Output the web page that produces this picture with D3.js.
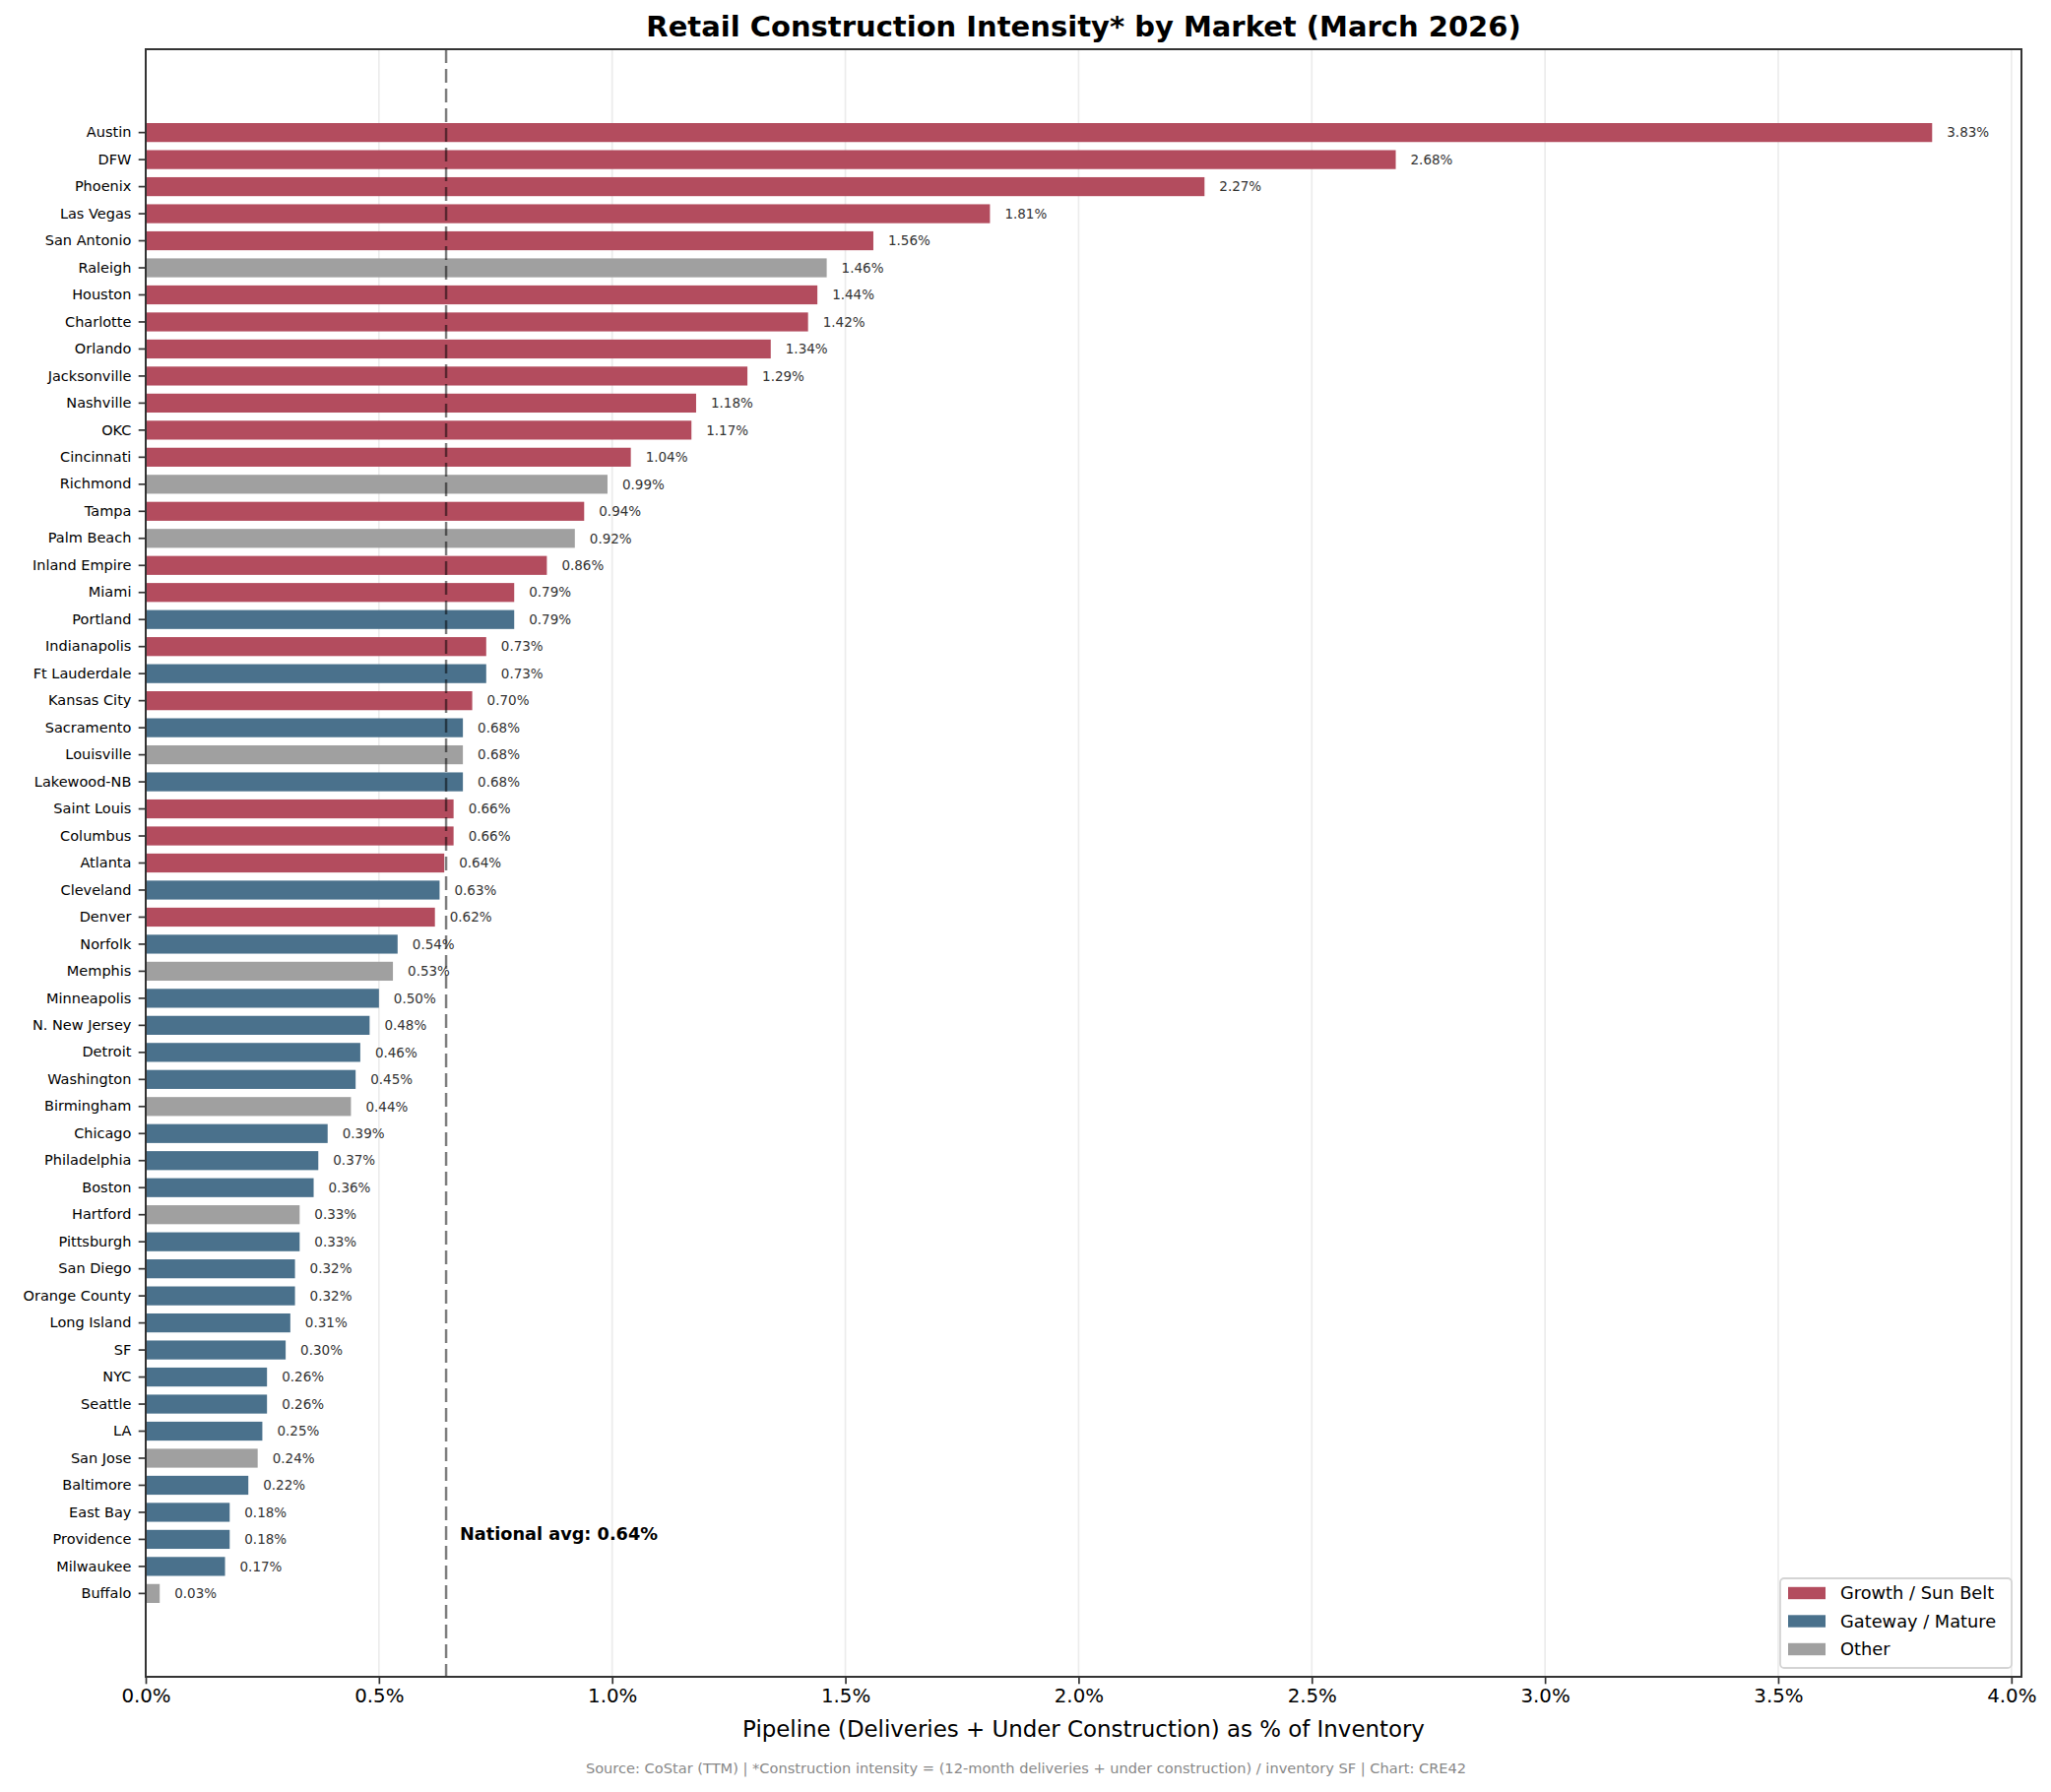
<!DOCTYPE html>
<html>
<head>
<meta charset="utf-8">
<script src="https://cdn.jsdelivr.net/npm/d3@7"></script>
<style>
  body { margin: 0; background: #fff; }
  text { font-family: "DejaVu Sans", sans-serif; }
</style>
</head>
<body>
<svg id="chart" width="2083" height="1820"></svg>
<script>
// markets, top to bottom
const markets = [
  "Austin", "DFW", "Phoenix", "Las Vegas", "San Antonio", "Raleigh", "Houston", "Charlotte",
  "Orlando", "Jacksonville", "Nashville", "OKC", "Cincinnati", "Richmond", "Tampa", "Palm Beach",
  "Inland Empire", "Miami", "Portland", "Indianapolis", "Ft Lauderdale", "Kansas City", "Sacramento",
  "Louisville", "Lakewood-NB", "Saint Louis", "Columbus", "Atlanta", "Cleveland", "Denver", "Norfolk",
  "Memphis", "Minneapolis", "N. New Jersey", "Detroit", "Washington", "Birmingham", "Chicago",
  "Philadelphia", "Boston", "Hartford", "Pittsburgh", "San Diego", "Orange County", "Long Island",
  "SF", "NYC", "Seattle", "LA", "San Jose", "Baltimore", "East Bay", "Providence", "Milwaukee", "Buffalo"
];

// pipeline as % of inventory
const intensity = [
  3.83, 2.68, 2.27, 1.81, 1.56, 1.46, 1.44, 1.42,
  1.34, 1.29, 1.18, 1.17, 1.04, 0.99, 0.94, 0.92,
  0.86, 0.79, 0.79, 0.73, 0.73, 0.70, 0.68,
  0.68, 0.68, 0.66, 0.66, 0.64, 0.63, 0.62, 0.54,
  0.53, 0.50, 0.48, 0.46, 0.45, 0.44, 0.39,
  0.37, 0.36, 0.33, 0.33, 0.32, 0.32, 0.31,
  0.30, 0.26, 0.26, 0.25, 0.24, 0.22, 0.18, 0.18, 0.17, 0.03
];

// G = growth / sun belt, M = gateway / mature, O = other
const groups = [
  "G", "G", "G", "G", "G", "O", "G", "G",
  "G", "G", "G", "G", "G", "O", "G", "O",
  "G", "G", "M", "G", "M", "G", "M",
  "O", "M", "G", "G", "G", "M", "G", "M",
  "O", "M", "M", "M", "M", "O", "M",
  "M", "M", "O", "M", "M", "M", "M",
  "M", "M", "M", "M", "O", "M", "M", "M", "M", "O"
];

const legendKeys = ["G", "M", "O"];
const legendLabels = ["Growth / Sun Belt", "Gateway / Mature", "Other"];
const groupColors = ["#b34c5e", "#4a718c", "#a0a0a0"];

const xTicks = [0, 0.5, 1.0, 1.5, 2.0, 2.5, 3.0, 3.5, 4.0];
const nationalAvg = 0.644;

const rows = markets.map((m, i) => ({ market: m, value: intensity[i], group: groups[i] }));

const svg = d3.select("#chart");
const plotLeft = 148, plotRight = 2053, plotTop = 50, plotBottom = 1703;

const x = d3.scaleLinear()
    .domain([0, d3.max(intensity) * 1.05])
    .range([plotLeft, plotRight]);

const y = d3.scaleBand()
    .domain(markets)
    .range([plotTop, plotBottom])
    .paddingInner(0.3)
    .paddingOuter(2.73);

const color = d3.scaleOrdinal().domain(legendKeys).range(groupColors);

// vertical grid
svg.append("g")
    .selectAll("line")
    .data(xTicks)
    .join("line")
    .attr("x1", d => x(d)).attr("x2", d => x(d))
    .attr("y1", plotTop).attr("y2", plotBottom)
    .style("stroke", "#ececec")
    .style("stroke-width", 1.7);

// bars
svg.append("g")
    .selectAll("rect")
    .data(rows)
    .join("rect")
    .attr("x", x(0))
    .attr("y", d => y(d.market))
    .attr("width", d => x(d.value) - x(0))
    .attr("height", y.bandwidth())
    .style("fill", d => color(d.group));

// national average
svg.append("line")
    .attr("x1", x(nationalAvg)).attr("x2", x(nationalAvg))
    .attr("y1", plotTop).attr("y2", plotBottom)
    .style("stroke", "#000")
    .style("stroke-opacity", 0.5)
    .style("stroke-width", 2.5)
    .style("stroke-dasharray", "14,6");

// value labels
svg.append("g")
    .selectAll("text")
    .data(rows)
    .join("text")
    .attr("x", d => x(d.value) + 15)
    .attr("y", d => y(d.market) + y.bandwidth() / 2)
    .attr("dy", "0.35em")
    .style("font-size", "13.5px")
    .style("fill", "#333")
    .text(d => d.value.toFixed(2) + "%");

// avg label, sits between East Bay and Providence rows
const avgRow = y(markets[51]) + y.bandwidth() / 2 + y.step() * 0.78;
svg.append("text")
    .attr("x", x(nationalAvg) + 14)
    .attr("y", avgRow)
    .attr("dy", "0.35em")
    .style("font-size", "17.7px")
    .style("font-weight", "bold")
    .style("fill", "#000")
    .text("National avg: " + nationalAvg.toFixed(2) + "%");

// axes
const xAxis = svg.append("g")
    .attr("transform", `translate(0,${plotBottom})`)
    .call(d3.axisBottom(x).tickValues(xTicks).tickFormat(d => d.toFixed(1) + "%")
        .tickSize(7.3).tickPadding(5));
xAxis.select(".domain").remove();
xAxis.selectAll(".tick line").style("stroke", "#333").style("stroke-width", 1.7);
xAxis.selectAll(".tick text").style("font-size", "19.8px").style("fill", "#000")
    .style("font-family", "DejaVu Sans");

const yAxis = svg.append("g")
    .attr("transform", `translate(${plotLeft},0)`)
    .call(d3.axisLeft(y).tickSize(7.3).tickPadding(7.3));
yAxis.select(".domain").remove();
yAxis.selectAll(".tick line").style("stroke", "#333").style("stroke-width", 1.7);
yAxis.selectAll(".tick text").style("font-size", "14.5px").style("fill", "#000")
    .style("font-family", "DejaVu Sans");

// frame
svg.append("rect")
    .attr("x", plotLeft).attr("y", plotTop)
    .attr("width", plotRight - plotLeft).attr("height", plotBottom - plotTop)
    .style("fill", "none")
    .style("stroke", "#333")
    .style("stroke-width", 2);

// legend
const legend = svg.append("g").attr("transform", "translate(1808,1603)");
legend.append("rect")
    .attr("width", 235).attr("height", 91)
    .attr("rx", 4).attr("ry", 4)
    .style("fill", "#fff").style("fill-opacity", 0.85)
    .style("stroke", "#d4d4d4").style("stroke-width", 1.8);
const item = legend.selectAll(".item")
    .data(legendKeys)
    .join("g")
    .attr("class", "item")
    .attr("transform", (d, i) => `translate(8,${15 + i * 28.5})`);
item.append("rect")
    .attr("y", -6.2).attr("width", 38).attr("height", 12.4)
    .style("fill", d => color(d));
item.append("text")
    .attr("x", 53).attr("dy", "0.36em")
    .style("font-size", "17.8px").style("fill", "#000")
    .text((d, i) => legendLabels[i]);

// titles
svg.append("text")
    .attr("x", (plotLeft + plotRight) / 2).attr("y", 37)
    .attr("text-anchor", "middle")
    .style("font-size", "29px").style("font-weight", "bold")
    .text("Retail Construction Intensity* by Market (March 2026)");

svg.append("text")
    .attr("x", (plotLeft + plotRight) / 2).attr("y", 1764)
    .attr("text-anchor", "middle")
    .style("font-size", "22.9px")
    .text("Pipeline (Deliveries + Under Construction) as % of Inventory");

svg.append("text")
    .attr("x", 1042).attr("y", 1801)
    .attr("text-anchor", "middle")
    .style("font-size", "14.6px").style("fill", "#888")
    .text("Source: CoStar (TTM) | *Construction intensity = (12-month deliveries + under construction) / inventory SF | Chart: CRE42");
</script>
</body>
</html>
